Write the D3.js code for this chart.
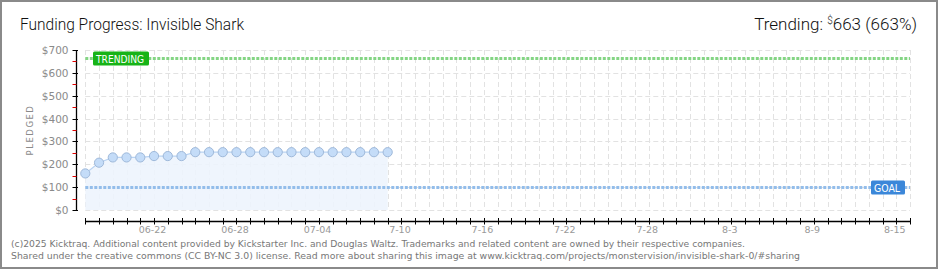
<!DOCTYPE html>
<html>
<head>
<meta charset="utf-8">
<script src="https://cdn.jsdelivr.net/npm/d3@7"></script>
<style>
  html, body { margin: 0; padding: 0; background: #fff; }
  svg { display: block; }
</style>
</head>
<body>
<svg id="chart" width="940" height="270"></svg>
<script>
// ---- data ----
const dataDates = ["2025-06-17","2025-06-18","2025-06-19","2025-06-20","2025-06-21","2025-06-22","2025-06-23","2025-06-24","2025-06-25","2025-06-26","2025-06-27","2025-06-28","2025-06-29","2025-06-30","2025-07-01","2025-07-02","2025-07-03","2025-07-04","2025-07-05","2025-07-06","2025-07-07","2025-07-08","2025-07-09"];
const pledged = [160, 207, 230, 230, 230, 236, 236, 236, 253, 253, 253, 253, 253, 253, 253, 253, 253, 253, 253, 253, 253, 253, 253];
const axisStart = "2025-06-17";
const axisEnd = "2025-08-16";
const xTickLabels = ["06-22","06-28","07-04","7-10","7-16","7-22","7-28","8-3","8-9","8-15"];
const xLabelDates = ["2025-06-22","2025-06-28","2025-07-04","2025-07-10","2025-07-16","2025-07-22","2025-07-28","2025-08-03","2025-08-09","2025-08-15"];
const yTickValues = [0, 100, 200, 300, 400, 500, 600, 700];
const goal = 100;
const trending = 663;
const title = "Funding Progress: Invisible Shark";
const footer1 = "(c)2025 Kicktraq. Additional content provided by Kickstarter Inc. and Douglas Waltz. Trademarks and related content are owned by their respective companies.";
const footer2 = "Shared under the creative commons (CC BY-NC 3.0) license. Read more about sharing this image at www.kicktraq.com/projects/monstervision/invisible-shark-0/#sharing";

const parse = d3.utcParse("%Y-%m-%d");
const svg = d3.select("#chart");

// frame
svg.append("rect").attr("x", 1).attr("y", 1).attr("width", 936).attr("height", 267)
  .attr("fill", "#fff").attr("stroke", "#8a8a8a").attr("stroke-width", 2);

const x = d3.scaleUtc().domain([parse(axisStart), parse(axisEnd)]).range([85.3, 910]);
const y = d3.scaleLinear().domain([0, 700]).range([210, 50]);

const days = d3.utcDay.range(parse(axisStart), d3.utcDay.offset(parse(axisEnd), 1));

// grid
const grid = svg.append("g").attr("stroke", "#e2e2e2").attr("stroke-width", 1).attr("stroke-dasharray", "5,3");
grid.selectAll("line.v").data(days).join("line")
  .attr("x1", d => Math.round(x(d)) + 0.5).attr("x2", d => Math.round(x(d)) + 0.5)
  .attr("y1", y(700)).attr("y2", y(0));
grid.selectAll("line.h").data(yTickValues).join("line")
  .attr("x1", x(parse(axisStart))).attr("x2", x(parse(axisEnd)))
  .attr("y1", d => Math.round(y(d)) + 0.5).attr("y2", d => Math.round(y(d)) + 0.5);

// area + line + points
const pts = dataDates.map((d, i) => ({ date: parse(d), v: pledged[i] }));
svg.append("path").datum(pts)
  .attr("d", d3.area().x(d => x(d.date)).y0(y(0)).y1(d => y(d.v)))
  .attr("fill", "#edf4fd").attr("opacity", 0.9);
svg.append("path").datum(pts)
  .attr("d", d3.line().x(d => x(d.date)).y(d => y(d.v)))
  .attr("fill", "none").attr("stroke", "#b9d3f2").attr("stroke-width", 1.2);

// goal & trending lines
function dashLine(val, color) {
  svg.append("line")
    .attr("x1", x(parse(axisStart))).attr("x2", x(parse(axisEnd)))
    .attr("y1", Math.round(y(val)) + 0.5).attr("y2", Math.round(y(val)) + 0.5)
    .attr("stroke", color).attr("stroke-width", 3).attr("stroke-dasharray", "3,1.5");
}
dashLine(goal, "#93bdea");
dashLine(trending, "#84d584");

svg.append("g").selectAll("circle").data(pts).join("circle")
  .attr("cx", d => x(d.date)).attr("cy", d => y(d.v)).attr("r", 4.6)
  .attr("fill", "#c4dcf8").attr("stroke", "#9fb9da").attr("stroke-width", 1);

// labels on lines
function tag(x0, w, val, color, label) {
  const yy = Math.round(y(val)) + 0.5;
  svg.append("rect").attr("x", x0).attr("y", yy - 7).attr("width", w).attr("height", 14)
    .attr("rx", 1.5).attr("fill", color);
  svg.append("text").attr("x", x0 + 3).attr("y", yy + 4)
    .attr("font-family", "DejaVu Sans, sans-serif").attr("font-size", 10)
    .attr("fill", "#fff").attr("textLength", w - 8).attr("lengthAdjust", "spacingAndGlyphs").text(label);
}
tag(93, 56, trending, "#17b317", "TRENDING");
tag(871, 34, goal, "#3b87d9", "GOAL");

// y axis
const yAxis = svg.append("g").attr("transform", "translate(76.5,0)");
yAxis.append("line").attr("x1", 0).attr("x2", 0).attr("y1", y(700)).attr("y2", y(0)).attr("stroke", "#000").attr("stroke-width", 1.3);
yAxis.selectAll("line.minor").data(d3.range(50, 700, 100)).join("line")
  .attr("x1", -4).attr("x2", 0).attr("y1", d => Math.round(y(d)) + 0.5).attr("y2", d => Math.round(y(d)) + 0.5)
  .attr("stroke", "#e00000");
yAxis.selectAll("line.major").data(yTickValues).join("line")
  .attr("x1", -4).attr("x2", 1.5).attr("y1", d => Math.round(y(d)) + 0.5).attr("y2", d => Math.round(y(d)) + 0.5)
  .attr("stroke", "#000");
yAxis.selectAll("text").data(yTickValues).join("text")
  .attr("x", -8).attr("y", d => y(d) + 4).attr("text-anchor", "end")
  .attr("font-family", "DejaVu Sans, sans-serif").attr("font-size", 10.5).attr("fill", "#8a8a8a")
  .text(d => "$" + d);

svg.append("text").attr("transform", "translate(33,130) rotate(-90)").attr("text-anchor", "middle")
  .attr("font-family", "DejaVu Sans, sans-serif").attr("font-size", 8.5).attr("fill", "#8a8a8a")
  .attr("letter-spacing", 1.5).text("PLEDGED");

// x axis
const xAxis = svg.append("g").attr("transform", "translate(0,221.5)");
xAxis.append("line").attr("x1", x(parse(axisStart))).attr("x2", x(parse(axisEnd)) + 1).attr("stroke", "#000").attr("stroke-width", 1.3);
xAxis.selectAll("line.t").data(days).join("line")
  .attr("x1", d => Math.round(x(d)) + 0.5).attr("x2", d => Math.round(x(d)) + 0.5)
  .attr("y1", -3.5).attr("y2", 3).attr("stroke", "#000");
xAxis.selectAll("text").data(xLabelDates).join("text")
  .attr("x", d => x(parse(d)) - 1.5).attr("y", 11)
  .attr("text-anchor", "middle")
  .attr("font-family", "DejaVu Sans, sans-serif").attr("font-size", 9.5).attr("fill", "#999")
  .text((d, i) => xTickLabels[i]);

// title
svg.append("text").attr("x", 20).attr("y", 30)
  .attr("font-family", "Roboto, sans-serif").attr("font-weight", 300).attr("font-size", 17).attr("fill", "#111")
  .attr("textLength", 224).attr("lengthAdjust", "spacingAndGlyphs").text(title);

const tr = svg.append("text").attr("x", 917).attr("y", 30).attr("text-anchor", "end")
  .attr("font-family", "Roboto, sans-serif").attr("font-weight", 300).attr("font-size", 17).attr("fill", "#111");
tr.append("tspan").text("Trending: ");
tr.append("tspan").attr("font-size", 10).attr("dy", -6).text("$");
tr.append("tspan").attr("dy", 6).text(trending + " (" + Math.round(trending / goal * 100) + "%)");

// footer
svg.append("text").attr("x", 11).attr("y", 247)
  .attr("font-family", "DejaVu Sans, sans-serif").attr("font-size", 9.5).attr("fill", "#777")
  .attr("textLength", 734).attr("lengthAdjust", "spacingAndGlyphs").text(footer1);
svg.append("text").attr("x", 11).attr("y", 259)
  .attr("font-family", "DejaVu Sans, sans-serif").attr("font-size", 9.5).attr("fill", "#777")
  .attr("textLength", 789).attr("lengthAdjust", "spacingAndGlyphs").text(footer2);
</script>
</body>
</html>
